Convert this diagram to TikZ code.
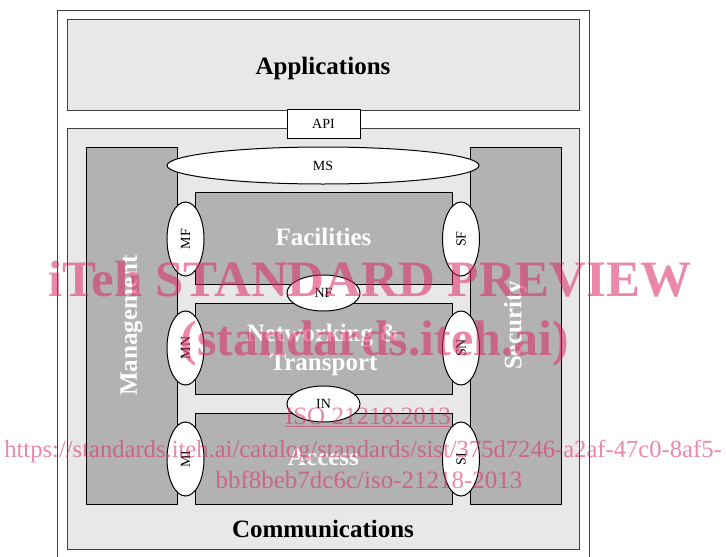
\documentclass[tikz,border=0pt]{standalone}
\usepackage{fontspec}
\setmainfont{Liberation Serif}
\usetikzlibrary{shapes.geometric}
\definecolor{lgray}{HTML}{E8E8E8}
\definecolor{dgray}{HTML}{B2B2B2}
\definecolor{frame}{HTML}{404040}
\definecolor{wmpink}{RGB}{220,40,100}
\begin{document}
\begin{tikzpicture}[x=1pt,y=-1pt,
  layer/.style={draw=frame, fill=lgray, line width=1pt},
  blk/.style={draw=black, fill=dgray, line width=1pt},
  port/.style={ellipse, draw=black, fill=white, line width=1pt, inner sep=0pt, font=\fontsize{14}{16}\selectfont},
  vport/.style={port, rotate=90, minimum width=74pt, minimum height=37pt},
  hport/.style={port, minimum width=73pt, minimum height=36pt},
  bigtxt/.style={font=\fontsize{25}{29}\selectfont\bfseries, inner sep=0pt, anchor=base},
  wm/.style={text=wmpink, text opacity=0.55, inner sep=0pt, anchor=base}
]
\useasboundingbox (0,0) rectangle (726,557);
\fill[white] (0,0) rectangle (726,557);
% outer frame
\draw[draw=frame, line width=0.8pt] (57,10) rectangle (589,575);
% layers
\draw[layer] (67,19) rectangle (579,110);
\draw[layer] (67,128) rectangle (579,549);
\node[bigtxt] (apptxt) at (323,74) {Applications};
\node[bigtxt] (commtxt) at (323,537) {Communications};
% side columns
\draw[blk] (86,147) rectangle (177,504);
\draw[blk] (470,147) rectangle (561,504);
\node[bigtxt, anchor=center, rotate=90, text=white] (mgmt) at (131.5,325.5) {Management};
\node[bigtxt, anchor=center, rotate=90, text=white] (sec) at (515.5,325.5) {Security};
% inner layers
\draw[blk] (195,192) rectangle (452,284);
\draw[blk] (195,303) rectangle (452,394);
\draw[blk] (195,413) rectangle (452,504);
\node[bigtxt, text=white] (fac) at (323.5,245) {Facilities};
\node[bigtxt, text=white] (net1) at (323.5,341) {Networking \&};
\node[bigtxt, text=white] (net2) at (323.5,370) {Transport};
\node[bigtxt, text=white] (acc) at (323.5,465) {Access};
% API
\node[draw=black, fill=white, line width=1pt, minimum width=73pt, minimum height=29pt, inner sep=0pt, font=\fontsize{14}{16}\selectfont] (api) at (323.5,123.5) {API};
% interfaces
\node[port, minimum width=312pt, minimum height=37pt] (ms) at (323,165.5) {MS};
\node[vport] (mf) at (185.5,239) {MF};
\node[vport] (sf) at (461,239) {SF};
\node[vport] (mn) at (185.5,348) {MN};
\node[vport] (sn) at (461,348) {SN};
\node[vport] (mi) at (185.5,459) {MI};
\node[vport] (si) at (461,459) {SI};
\node[hport] (nf) at (323.5,293) {NF};
\node[hport] (in) at (323.5,404) {IN};
% watermark
\node[wm, font=\fontsize{51}{55}\selectfont\bfseries] (w1) at (370,296) {iTeh STANDARD PREVIEW};
\node[wm, font=\fontsize{50}{54}\selectfont\bfseries] (w2) at (375,355) {(standards.iteh.ai)};
\node[wm, font=\fontsize{25}{28}\selectfont] (w3) at (368,424) {\underline{ISO 21218:2013}};
\node[wm, font=\fontsize{24.6}{28}\selectfont] (w4) at (363,457) {https://standards.iteh.ai/catalog/standards/sist/375d7246-a2af-47c0-8af5-};
\node[wm, font=\fontsize{25}{28}\selectfont] (w5) at (369,488) {bbf8beb7dc6c/iso-21218-2013};
\end{tikzpicture}
\end{document}
